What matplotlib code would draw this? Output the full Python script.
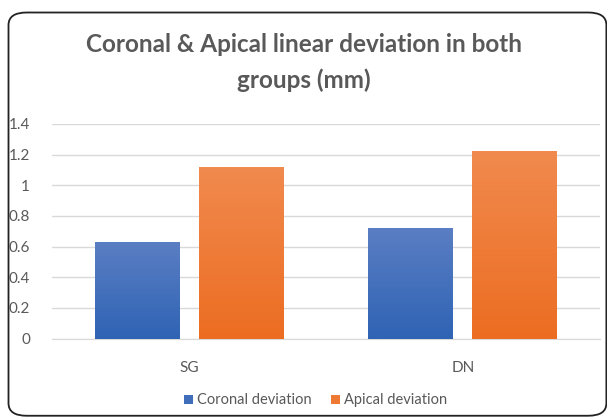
import numpy as np
import matplotlib.pyplot as plt
from matplotlib.patches import FancyBboxPatch
from matplotlib.colors import LinearSegmentedColormap

groups = ["SG", "DN"]
coronal = [0.63, 0.72]
apical = [1.12, 1.22]
series_names = ["Coronal deviation", "Apical deviation"]
yticks = [0, 0.2, 0.4, 0.6, 0.8, 1, 1.2, 1.4]
ytick_labels = ["0", "0.2", "0.4", "0.6", "0.8", "1", "1.2", "1.4"]

plt.rcParams['font.family'] = ['Lato', 'DejaVu Sans']

fig = plt.figure(figsize=(6.07, 4.17), dpi=100)
fig.patch.set_facecolor('white')

# rounded frame, runs off the bottom/right edge like the source image
frame = FancyBboxPatch((0.014, 0.003), 0.985, 0.967, boxstyle="round,pad=0,rounding_size=0.03",
                       transform=fig.transFigure, fill=False, edgecolor='#222222', linewidth=1.3)
fig.patches.append(frame)

ax = fig.add_axes([0.086, 0.188, 0.902, 0.515])

x = np.arange(len(groups))
w = 0.31
off = 0.19
cmaps = [LinearSegmentedColormap.from_list('b', ['#2f63b4', '#5a7ec3']),
         LinearSegmentedColormap.from_list('o', ['#ec6d22', '#f18a4e'])]
grad = np.linspace(0, 1, 100).reshape(-1, 1)

for vals, sign, cm, name in [(coronal, -1, cmaps[0], series_names[0]),
                             (apical, 1, cmaps[1], series_names[1])]:
    bars = ax.bar(x + sign * off, vals, w, color=cm(0.4), label=name, zorder=2)
    for b in bars:
        im = ax.imshow(grad, extent=[b.get_x(), b.get_x() + b.get_width(), 0, b.get_height()],
                       origin='lower', cmap=cm, aspect='auto', zorder=3)
        im.set_clip_path(b)

ax.set_xlim(-0.5, 1.5)
ax.set_ylim(0, 1.4)
ax.set_yticks(yticks)
ax.set_yticklabels(ytick_labels)
ax.set_xticks(x)
ax.set_xticklabels(groups)
ax.grid(axis='y', color='#d9d9d9', linewidth=1, zorder=0)
ax.set_axisbelow(True)
for s in ['top', 'right', 'left']:
    ax.spines[s].set_visible(False)
ax.spines['bottom'].set_color('#d9d9d9')
ax.tick_params(length=0, labelsize=11, labelcolor='#595959')
ax.tick_params(axis='y', pad=16)
ax.tick_params(axis='x', pad=16)

fig.text(0.5, 0.893, "Coronal & Apical linear deviation in both", ha='center', va='center',
         fontsize=17.5, fontweight='bold', color='#595959')
fig.text(0.5, 0.808, "groups (mm)", ha='center', va='center',
         fontsize=17.5, fontweight='bold', color='#595959')

leg = fig.legend(loc='center', bbox_to_anchor=(0.52, 0.04), ncol=2, frameon=False,
                 fontsize=10.5, handlelength=0.6, handleheight=0.6, columnspacing=1.3,
                 handletextpad=0.3)
for t in leg.get_texts():
    t.set_color('#595959')

fig.savefig('out.png', dpi=100)
